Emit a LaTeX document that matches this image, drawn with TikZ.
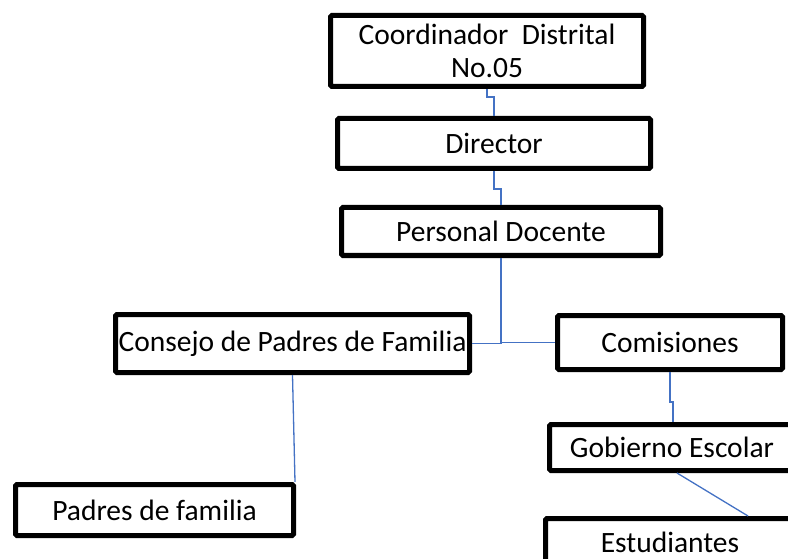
\documentclass[tikz,border=0pt]{standalone}
\usepackage{fontspec}
\setmainfont{Carlito}
\usetikzlibrary{calc}
\definecolor{linkblue}{RGB}{68,114,196}
\begin{document}
\begin{tikzpicture}[x=1pt,y=-1pt,
  orgbox/.style={draw=black, line width=5pt, rounded corners=1.5pt, fill=white,
    inner sep=0pt, align=center, font=\fontsize{29.5}{33}\selectfont},
  conn/.style={draw=linkblue, line width=1.3pt}]
\clip (0,0) rectangle (788,559);
\node[orgbox, minimum width=313, minimum height=71] (coord) at (487,51) {Coordinador\ \ Distrital\\No.05};
\node[orgbox, minimum width=313, minimum height=50] (dir) at (494,143.5) {Director};
\node[orgbox, minimum width=319, minimum height=48] (pers) at (501,231.5) {Personal Docente};
\node[orgbox, minimum width=354, minimum height=58] (cons) at (292.5,343.5) {Consejo de Padres de Familia};
\node[orgbox, minimum width=225, minimum height=54] (com) at (670,342.5) {Comisiones};
\node[orgbox, minimum width=245, minimum height=46] (gob) at (672,447.5) {Gobierno Escolar};
\node[orgbox, minimum width=249, minimum height=47] (est) at (670,542) {Estudiantes};
\node[orgbox, minimum width=278, minimum height=51] (pad) at (154.5,510) {Padres de familia};
\draw[conn] (coord.south) -- ++(0,8) -| (dir.north);
\draw[conn] (dir.south) -- ++(0,18) -| (pers.north);
\draw[conn] (pers.south) |- (cons.east);
\draw[conn] (pers.south) |- (com.west);
\draw[conn] (com.south) -- ++(0,30) -| ($(gob.north)+(1,0)$);
\draw[conn] ($(gob.south)+(5,0)$) -- ($(est.north)+(78,0)$);
\draw[conn] (cons.south) -- ($(pad.north east)+(-1,0)$);
\end{tikzpicture}
\end{document}
